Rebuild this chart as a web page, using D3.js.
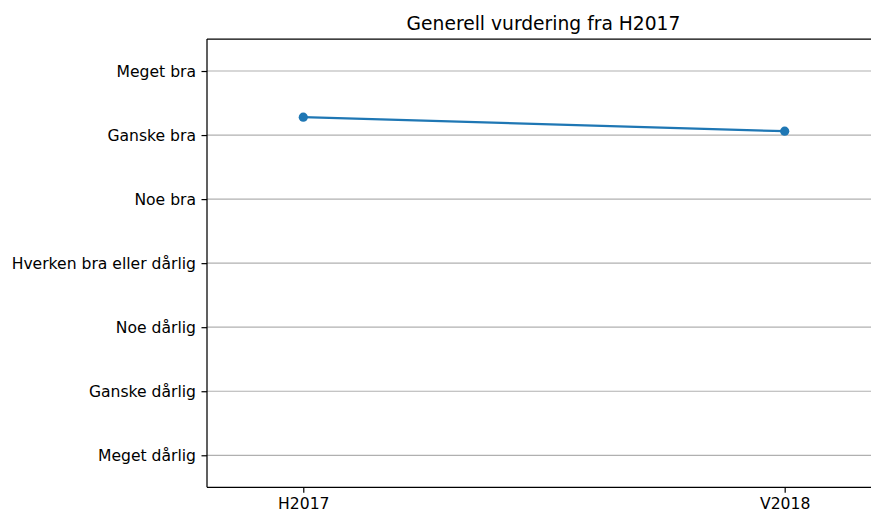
<!DOCTYPE html>
<html>
<head>
<meta charset="utf-8">
<script src="https://cdn.jsdelivr.net/npm/d3@7"></script>
<style>
  body { margin: 0; background: #fff; }
  text { font-family: "DejaVu Sans", sans-serif; fill: #000; }
</style>
</head>
<body>
<div id="chart"></div>
<script>
// data
const periods = ["H2017", "V2018"];
const scores = [6.28, 6.06];
const levelLabels = ["Meget dårlig", "Ganske dårlig", "Noe dårlig", "Hverken bra eller dårlig",
  "Noe bra", "Ganske bra", "Meget bra"];
const levelValues = [1, 2, 3, 4, 5, 6, 7];

const W = 871, H = 512;
const plotLeft = 207, plotTop = 39, plotBottom = 487.3;

const svg = d3.select("#chart").append("svg")
  .attr("width", W)
  .attr("height", H);

// scales - x domain has wide padding, right side runs off the picture
const x = d3.scaleLinear().domain([-0.2, 1.2]).range([plotLeft, plotLeft + 481.4 * 1.4]);
const y = d3.scaleLinear().domain([0.5, 7.5]).range([plotBottom, plotTop]);

// grid
svg.append("g")
  .selectAll("line")
  .data(levelValues)
  .join("line")
    .attr("x1", plotLeft)
    .attr("x2", W + 20)
    .attr("y1", d => y(d))
    .attr("y2", d => y(d))
    .attr("stroke", "#b0b0b0")
    .attr("stroke-width", 1.2);

// axes
const yAxis = svg.append("g")
  .attr("transform", `translate(${plotLeft},0)`)
  .call(d3.axisLeft(y).tickValues(levelValues)
    .tickFormat(d => levelLabels[d - 1]).tickSize(5.5).tickPadding(5.5));

const xAxis = svg.append("g")
  .attr("transform", `translate(0,${plotBottom})`)
  .call(d3.axisBottom(x).tickValues([0, 1])
    .tickFormat(d => periods[d]).tickSize(5.5).tickPadding(5.5));

[yAxis, xAxis].forEach(a => {
  a.select(".domain").remove();
  a.selectAll("line").attr("stroke", "#000").attr("stroke-width", 1.2);
  a.selectAll("text").attr("font-size", "15.6px").attr("font-family", "DejaVu Sans");
});

// spines
svg.append("line").attr("x1", plotLeft).attr("x2", plotLeft).attr("y1", plotTop).attr("y2", plotBottom)
  .attr("stroke", "#000").attr("stroke-width", 1.25);
svg.append("line").attr("x1", plotLeft).attr("x2", W + 20).attr("y1", plotBottom).attr("y2", plotBottom)
  .attr("stroke", "#000").attr("stroke-width", 1.25);
svg.append("line").attr("x1", plotLeft).attr("x2", W + 20).attr("y1", plotTop).attr("y2", plotTop)
  .attr("stroke", "#000").attr("stroke-width", 1.25);

// line + markers
const pts = scores.map((v, i) => [i, v]);
svg.append("path")
  .datum(pts)
  .attr("fill", "none")
  .attr("stroke", "#1f77b4")
  .attr("stroke-width", 2.3)
  .attr("d", d3.line().x(d => x(d[0])).y(d => y(d[1])));

svg.append("g")
  .selectAll("circle")
  .data(pts)
  .join("circle")
    .attr("cx", d => x(d[0]))
    .attr("cy", d => y(d[1]))
    .attr("r", 4.6)
    .attr("fill", "#1f77b4");

// title
svg.append("text")
  .attr("x", 543.5)
  .attr("y", 30)
  .attr("text-anchor", "middle")
  .attr("font-size", "18.7px")
  .text("Generell vurdering fra H2017");
</script>
</body>
</html>
